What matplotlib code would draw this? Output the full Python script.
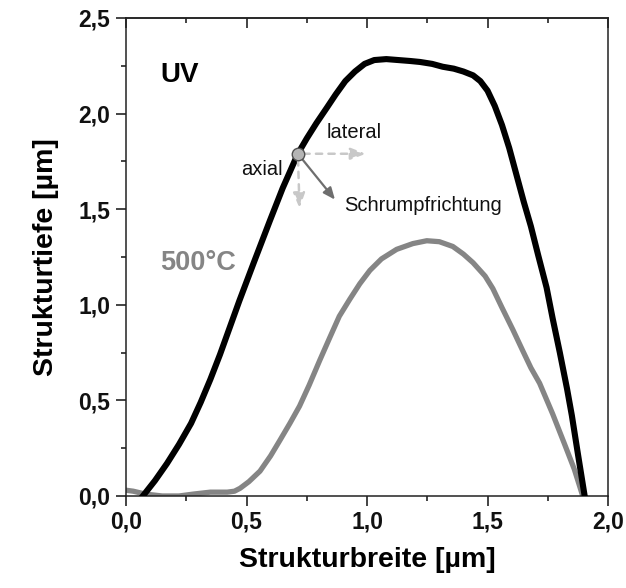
import matplotlib
matplotlib.use("Agg")
import matplotlib.pyplot as plt
from matplotlib.ticker import MultipleLocator, FuncFormatter

# Profile after UV exposure (black)
uv_x = [0.07, 0.12, 0.17, 0.22, 0.27, 0.31, 0.35, 0.39, 0.43, 0.47, 0.53, 0.597,
        0.65, 0.713, 0.75, 0.79, 0.833, 0.87, 0.91, 0.95, 0.99, 1.03, 1.08, 1.13,
        1.18, 1.22, 1.27, 1.314, 1.36, 1.40, 1.44, 1.47, 1.50, 1.53, 1.56, 1.59,
        1.62, 1.65, 1.68, 1.71, 1.745, 1.77, 1.80, 1.83, 1.85, 1.875, 1.903]
uv_y = [0.00, 0.08, 0.17, 0.27, 0.38, 0.49, 0.61, 0.74, 0.88, 1.02, 1.22, 1.44,
        1.61, 1.79, 1.87, 1.95, 2.03, 2.10, 2.17, 2.22, 2.26, 2.28, 2.285, 2.28,
        2.275, 2.27, 2.26, 2.245, 2.235, 2.22, 2.20, 2.17, 2.12, 2.04, 1.94, 1.82,
        1.68, 1.54, 1.41, 1.26, 1.09, 0.93, 0.75, 0.56, 0.42, 0.22, 0.00]

# Profile after 500 °C annealing (grey)
t500_x = [0.00, 0.03, 0.08, 0.15, 0.22, 0.28, 0.35, 0.42, 0.45, 0.473, 0.51, 0.556,
          0.60, 0.638, 0.68, 0.72, 0.76, 0.804, 0.846, 0.885, 0.929, 0.97, 1.012,
          1.06, 1.123, 1.19, 1.248, 1.30, 1.356, 1.40, 1.44, 1.49, 1.522, 1.56,
          1.605, 1.646, 1.68, 1.716, 1.77, 1.82, 1.86, 1.895]
t500_y = [0.03, 0.025, 0.01, 0.00, 0.00, 0.01, 0.02, 0.02, 0.025, 0.04, 0.075, 0.13,
          0.21, 0.29, 0.38, 0.47, 0.58, 0.71, 0.83, 0.94, 1.03, 1.11, 1.18,
          1.24, 1.29, 1.32, 1.335, 1.33, 1.305, 1.265, 1.22, 1.15, 1.085, 0.985,
          0.87, 0.76, 0.67, 0.59, 0.43, 0.27, 0.14, 0.00]

# Point on the UV flank with its direction arrows
pt = (0.713, 1.79)
lateral_end = (0.995, 1.79)
axial_end = (0.72, 1.505)
shrink_end = (0.867, 1.55)

plt.rcParams['font.family'] = ['Liberation Sans', 'DejaVu Sans']

fig = plt.figure(figsize=(6.26, 5.88), dpi=100)
ax = fig.add_axes([0.2013, 0.1565, 0.7700, 0.8129])

ax.plot(t500_x, t500_y, color='#858585', lw=3.8, solid_joinstyle='round', zorder=2)
ax.plot(uv_x, uv_y, color='black', lw=4.4, solid_joinstyle='round', zorder=3)

ax.set_xlim(0, 2.0)
ax.set_ylim(0, 2.5)

# direction arrows
ax.annotate('', xy=lateral_end, xytext=pt,
            arrowprops=dict(arrowstyle='-|>,head_length=0.9,head_width=0.35',
                            color='#c8c8c8', lw=1.8, linestyle=(0, (2.5, 2.5)),
                            shrinkA=4, shrinkB=0), zorder=4)
ax.annotate('', xy=axial_end, xytext=pt,
            arrowprops=dict(arrowstyle='-|>,head_length=0.9,head_width=0.35',
                            color='#c8c8c8', lw=1.8, linestyle=(0, (2.5, 2.5)),
                            shrinkA=4, shrinkB=0), zorder=4)
ax.annotate('', xy=shrink_end, xytext=pt,
            arrowprops=dict(arrowstyle='-|>,head_length=0.7,head_width=0.3',
                            color='#6e6e6e', lw=1.6, shrinkA=4, shrinkB=0), zorder=4)
ax.plot([pt[0]], [pt[1]], 'o', ms=9, mfc='#b4b4b4', mec='#505050', mew=1.0, zorder=5)

ax.text(0.833, 1.90, 'lateral', fontsize=14.5, va='center', ha='left', color='#111111')
ax.text(0.651, 1.71, 'axial', fontsize=14.5, va='center', ha='right', color='#111111')
ax.text(0.904, 1.52, 'Schrumpfrichtung', fontsize=14.5, va='center', ha='left',
        color='#111111')

ax.text(0.141, 2.20, 'UV', fontsize=20, fontweight='bold', va='center', ha='left')
ax.text(0.141, 1.22, '500°C', fontsize=19.5, fontweight='bold', va='center', ha='left',
        color='#858585')

# axes styling
for s in ax.spines.values():
    s.set_linewidth(1.1)
    s.set_color('#222222')

comma = FuncFormatter(lambda v, p: f'{v:.1f}'.replace('.', ','))
ax.xaxis.set_major_locator(MultipleLocator(0.5))
ax.xaxis.set_minor_locator(MultipleLocator(0.25))
ax.yaxis.set_major_locator(MultipleLocator(0.5))
ax.yaxis.set_minor_locator(MultipleLocator(0.25))
ax.xaxis.set_major_formatter(comma)
ax.yaxis.set_major_formatter(comma)

ax.tick_params(axis='both', which='major', direction='out', length=7.2, width=1.1,
               labelsize=16.5, pad=3, colors='#111111')
ax.tick_params(axis='both', which='minor', direction='out', length=3.5, width=1.1,
               colors='#111111')
ax.tick_params(axis='y', which='major', pad=4)
for lab in ax.get_xticklabels() + ax.get_yticklabels():
    lab.set_fontweight('bold')

# inward ticks along the top edge
top = ax.secondary_xaxis('top')
top.xaxis.set_major_locator(MultipleLocator(0.5))
top.xaxis.set_minor_locator(MultipleLocator(0.25))
top.tick_params(which='major', direction='in', length=7.2, width=1.1, labeltop=False,
                colors='#111111')
top.tick_params(which='minor', direction='in', length=3.5, width=1.1, colors='#111111')
top.spines['top'].set_linewidth(1.1)
top.spines['top'].set_color('#222222')

ax.set_xlabel('Strukturbreite [µm]', fontsize=20.5, fontweight='bold', labelpad=10)
ax.set_ylabel('Strukturtiefe [µm]', fontsize=20.5, fontweight='bold', labelpad=14)

fig.savefig('out.png', dpi=100)
